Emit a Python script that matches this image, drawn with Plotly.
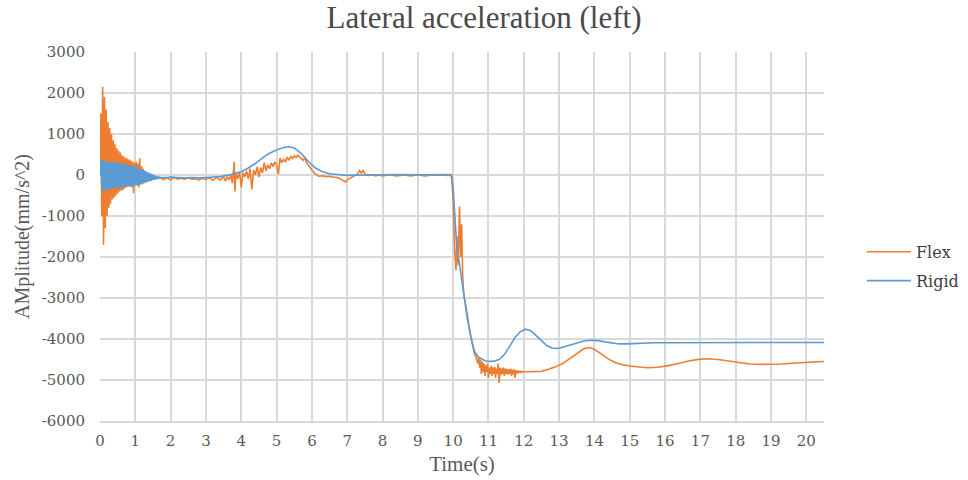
import numpy as np
import plotly.graph_objects as go

# ---- Flex: raw samples -------------------------------------------------
# start-up transient, sampled every 0.025 s from 0 to 1.575 s
flex_burst_start, flex_burst_step = 0.0, 0.025
flex_burst = [
    200, 1500, -1000, 2150, -1700, 1900, -1300, 1600, -1000, 1300,
    -800, 1150, -700, 1000, -600, 850, -550, 750, -500, 650,
    -450, 600, -400, 550, -380, 480, -370, 450, -330, 420,
    -300, 400, -280, 380, -260, 350, -300, 330, -440, 300,
    -250, 320, -230, 280, -300, 410, -200, 220, -230, 150,
    -180, 100, -170, 60, -150, 20, -140, -10, -130, -40,
    -120, -60, -110, -70,
]
flex_mid_t = [
    1.6, 1.7, 1.8, 1.9, 2.0, 2.1, 2.2, 2.3, 2.4, 2.5, 2.6, 2.7, 2.8, 2.9, 3.0,
    3.1, 3.2, 3.3, 3.4, 3.5, 3.55, 3.6, 3.65, 3.7, 3.75, 3.8, 3.82, 3.85, 3.9,
    3.95, 4.0, 4.05, 4.1, 4.15, 4.2, 4.25, 4.3, 4.35, 4.4, 4.45, 4.5, 4.55,
    4.6, 4.65, 4.7, 4.75, 4.8, 4.85, 4.9, 4.95, 5.0, 5.05, 5.1, 5.15, 5.2,
    5.25, 5.3, 5.35, 5.4, 5.45, 5.5, 5.55, 5.6, 5.65, 5.7, 5.75, 5.8, 5.85,
    5.9, 5.95, 6.0, 6.05, 6.1, 6.2, 6.3, 6.4, 6.5, 6.6, 6.7, 6.8, 6.9, 6.95,
    7.0, 7.1, 7.2, 7.3, 7.35, 7.4, 7.45, 7.5, 7.6, 7.7, 7.8, 7.9, 8.0, 8.2,
    8.4, 8.6, 8.8, 9.0, 9.2, 9.4, 9.6, 9.8, 9.95,
    10.0, 10.04, 10.08, 10.11, 10.14, 10.18, 10.21, 10.24, 10.27, 10.3,
    10.35, 10.4, 10.45, 10.5, 10.55, 10.6, 10.65, 10.7,
]
flex_mid_v = [
    -90, -60, -110, -70, -120, -60, -100, -80, -110, -70, -100, -90, -120, -80, -110,
    -70, -130, -60, -120, -50, -150, -40, -120, 0, -200, 320, -400, 50, -100,
    80, -300, 60, -50, 100, -100, 150, -350, 120, 0, 200, -50, 180,
    50, 300, 100, 250, 150, 300, 200, 320, 250, 20, 410, 300, 380,
    330, 420, 370, 450, 400, 470, 420, 480, 430, 400, 360, 420, 300,
    250, 180, 120, 60, 20, -30, -20, -40, -30, -50, -60, -90, -140, -170,
    -120, -60, -20, 30, 110, 40, 120, 20, -10, 10, -20, 0, -20, 10,
    -20, 0, -20, 10, -20, 0, -10, -20, -10,
    -600, -1800, -2320, -1500, -2200, -770, -2000, -1200, -2500, -2900,
    -3150, -3450, -3700, -3950, -4150, -4350, -4450, -4600,
]
# chatter after the step, sampled every 0.025 s from 10.725 to 12.0 s
flex_chatter_start, flex_chatter_step = 10.725, 0.025
flex_chatter = [
    -4450, -4700, -4500, -4850, -4550, -4800, -4600, -4900, -4650, -4800,
    -4600, -4950, -4700, -4850, -4650, -4900, -4700, -4850, -4680, -4950,
    -4720, -4850, -4600, -5070, -4700, -4880, -4720, -4850, -4700, -4900,
    -4720, -4850, -4730, -4870, -4740, -4850, -4720, -4900, -4750, -4860,
    -4740, -4950, -4760, -4850, -4770, -4830, -4780, -4820, -4790, -4810,
    -4790, -4800,
]
flex_tail_t = [
    12.1, 12.3, 12.5, 12.7, 12.9, 13.1, 13.3, 13.5, 13.7, 13.85, 14.0, 14.2,
    14.4, 14.6, 14.8, 15.0, 15.3, 15.5, 15.8, 16.1, 16.4, 16.7, 17.0, 17.2,
    17.5, 17.8, 18.1, 18.4, 18.7, 19.0, 19.3, 19.6, 19.9, 20.2, 20.5,
]
flex_tail_v = [
    -4800, -4800, -4790, -4740, -4680, -4600, -4480, -4350, -4240, -4210, -4250, -4370,
    -4490, -4580, -4630, -4660, -4690, -4700, -4690, -4650, -4590, -4530, -4490, -4480,
    -4500, -4540, -4580, -4610, -4620, -4620, -4610, -4590, -4570, -4560, -4550,
]

# ---- Rigid: raw samples ------------------------------------------------
rigid_burst_start, rigid_burst_step = 0.0, 0.025
rigid_burst = [
    0, 350, -300, 380, -420, 360, -350, 300, -380, 340,
    -330, 320, -360, 300, -320, 330, -300, 290, -340, 310,
    -300, 280, -320, 300, -290, 270, -310, 290, -280, 260,
    -300, 250, -270, 240, -290, 230, -260, 220, -280, 210,
    -250, 200, -260, 180, -240, 160, -230, 140, -210, 120,
    -200, 100, -180, 80, -170, 60, -150, 40, -140, 20,
    -120, 0, -110, -20, -100, -40, -90, -50, -80, -60,
    -70, -60,
]
rigid_rest_t = [
    1.9, 2.0, 2.2, 2.4, 2.6, 2.8, 3.0, 3.2, 3.4, 3.6, 3.8, 4.0, 4.2, 4.4, 4.6,
    4.8, 5.0, 5.2, 5.35, 5.5, 5.7, 5.9, 6.1, 6.3, 6.5, 6.8, 7.0, 7.5, 8.0, 8.5,
    9.0, 9.5, 9.95, 10.0, 10.05, 10.1, 10.15, 10.2, 10.3, 10.4, 10.5, 10.6,
    10.7, 10.8, 10.9, 11.0, 11.15, 11.3, 11.45, 11.6, 11.75, 11.9, 12.05,
    12.2, 12.35, 12.5, 12.65, 12.8, 12.95, 13.1, 13.3, 13.5, 13.7, 13.9,
    14.1, 14.3, 14.5, 14.7, 14.9, 15.1, 15.4, 15.7, 16.0, 16.5, 17.0, 17.5,
    18.0, 18.5, 19.0, 19.5, 20.0, 20.5,
]
rigid_rest_v = [
    -60, -50, -60, -70, -60, -70, -60, -50, -40, -10, 30, 80, 170, 280, 420,
    530, 610, 670, 690, 660, 520, 330, 170, 80, 30, 0, -10, 0, 10, 10,
    5, 10, 10, -300, -1200, -1750, -2000, -2300, -2900, -3500, -3950, -4300,
    -4430, -4490, -4530, -4550, -4540, -4500, -4380, -4180, -3960, -3820, -3760,
    -3800, -3920, -4060, -4160, -4220, -4230, -4200, -4150, -4090, -4050, -4030,
    -4040, -4070, -4100, -4120, -4120, -4110, -4100, -4090, -4090, -4090, -4085, -4090,
    -4090, -4090, -4090, -4090, -4085, -4085,
]

# y-axis ticks (labels written with a plain hyphen)
y_ticks = [3000, 2000, 1000, 0, -1000, -2000, -3000, -4000, -5000, -6000]
y_tick_labels = ["3000", "2000", "1000", "0", "-1000", "-2000", "-3000",
                 "-4000", "-5000", "-6000"]


def sample_times(start, step, values):
    return list(np.round(start + step * np.arange(len(values)), 4))


flex_t = (sample_times(flex_burst_start, flex_burst_step, flex_burst) + flex_mid_t
          + sample_times(flex_chatter_start, flex_chatter_step, flex_chatter) + flex_tail_t)
flex_v = flex_burst + flex_mid_v + flex_chatter + flex_tail_v
rigid_t = sample_times(rigid_burst_start, rigid_burst_step, rigid_burst) + rigid_rest_t
rigid_v = rigid_burst + rigid_rest_v

ORANGE = "#ED7D31"
BLUE = "#5B9BD5"
GRID = "#D9D9D9"
TEXT = "#595959"

fig = go.Figure()
fig.add_trace(go.Scatter(x=flex_t, y=flex_v, mode="lines", name="Flex",
                         legendgroup="flex",
                         line=dict(color=ORANGE, width=1.6)))
fig.add_trace(go.Scatter(x=rigid_t, y=rigid_v, mode="lines", name="Rigid",
                         legendgroup="rigid",
                         line=dict(color=BLUE, width=1.6)))

fig.update_layout(
    width=968, height=480,
    margin=dict(l=100, r=144, t=52, b=59),
    paper_bgcolor="white", plot_bgcolor="white",
    title=dict(text="Lateral acceleration (left)", x=0.5, xanchor="center",
               y=0.965, yanchor="middle",
               font=dict(family="Liberation Serif", size=31, color="#4a4a4a")),
    xaxis=dict(range=[0, 20.5], tick0=0, dtick=1, showgrid=True,
               gridcolor=GRID, gridwidth=1.5, zeroline=False,
               showline=True, linecolor=GRID, linewidth=1.5,
               automargin=False, ticklabelstandoff=5,
               tickfont=dict(family="DejaVu Serif", size=15, color=TEXT),
               title=dict(text="Time(s)", standoff=8,
                          font=dict(family="Liberation Serif", size=21, color=TEXT))),
    yaxis=dict(range=[-6000, 3000], tickvals=y_ticks, ticktext=y_tick_labels,
               showgrid=True, gridcolor=GRID, gridwidth=1.5, zeroline=False,
               showline=False, automargin=False, ticklabelstandoff=14,
               tickfont=dict(family="DejaVu Serif", size=15, color=TEXT),
               title=dict(text="AMplitude(mm/s^2)", standoff=6,
                          font=dict(family="Liberation Serif", size=20, color=TEXT))),
    legend=dict(xref="container", yref="container", x=0.8905, y=0.445,
                xanchor="left", yanchor="middle",
                tracegroupgap=5, itemwidth=44,
                font=dict(family="DejaVu Serif", size=16, color="#404040"),
                bgcolor="rgba(0,0,0,0)"),
    showlegend=True,
)

fig.write_html("out.html")
